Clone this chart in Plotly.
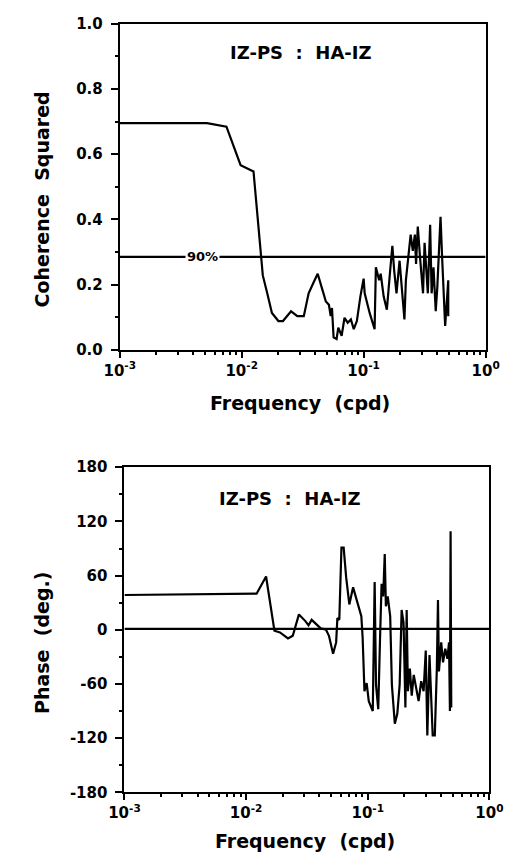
import plotly.graph_objects as go

# ---------------- data ----------------
coh_freq = [0.001, 0.0052, 0.0075, 0.0098, 0.0125, 0.0145, 0.0149, 0.0162, 0.0177, 0.020,
            0.0218, 0.0254, 0.0286, 0.0323, 0.0354, 0.0385, 0.042, 0.046, 0.049, 0.0519,
            0.0537, 0.055, 0.0567, 0.060, 0.062, 0.066, 0.0697, 0.074, 0.0786, 0.083,
            0.088, 0.094, 0.100, 0.102, 0.112, 0.123, 0.126, 0.134, 0.138, 0.146,
            0.155, 0.165, 0.172, 0.178, 0.186, 0.197, 0.204, 0.216, 0.222, 0.235,
            0.243, 0.253, 0.263, 0.269, 0.278, 0.290, 0.298, 0.307, 0.316, 0.326,
            0.336, 0.351, 0.361, 0.374, 0.390, 0.402, 0.414, 0.427, 0.440, 0.452,
            0.466, 0.480, 0.494, 0.494]
coh_values = [0.695, 0.695, 0.684, 0.566, 0.547, 0.289, 0.228, 0.173, 0.113, 0.088,
              0.088, 0.118, 0.103, 0.103, 0.173, 0.203, 0.233, 0.183, 0.148, 0.138,
              0.103, 0.128, 0.038, 0.033, 0.068, 0.043, 0.098, 0.083, 0.093, 0.063,
              0.088, 0.163, 0.218, 0.173, 0.113, 0.063, 0.253, 0.213, 0.233, 0.163,
              0.123, 0.243, 0.319, 0.243, 0.173, 0.273, 0.193, 0.093, 0.213, 0.293,
              0.353, 0.303, 0.353, 0.263, 0.378, 0.283, 0.213, 0.173, 0.328, 0.243,
              0.173, 0.383, 0.173, 0.253, 0.118, 0.193, 0.278, 0.408, 0.283, 0.193,
              0.073, 0.143, 0.213, 0.103]

phase_freq = [0.001, 0.0122, 0.0146, 0.0171, 0.019, 0.0221, 0.0242, 0.0272, 0.0307, 0.0326,
              0.0346, 0.0378, 0.0413, 0.0452, 0.048, 0.0519, 0.055, 0.0563, 0.0584, 0.0608,
              0.0634, 0.0665, 0.0706, 0.0758, 0.0805, 0.0855, 0.0886, 0.0908, 0.094, 0.098,
              0.102, 0.110, 0.114, 0.117, 0.122, 0.126, 0.130, 0.134, 0.138, 0.141,
              0.146, 0.153, 0.158, 0.167, 0.175, 0.183, 0.190, 0.197, 0.204, 0.209,
              0.214, 0.222, 0.230, 0.239, 0.249, 0.262, 0.275, 0.288, 0.300, 0.309,
              0.322, 0.332, 0.342, 0.356, 0.370, 0.378, 0.385, 0.402, 0.416, 0.434,
              0.452, 0.466, 0.474, 0.480, 0.486]
phase_values = [38.5, 40, 59, -1, -3, -9.6, -6.7, 17, 9.6, 5,
                11, 6, 1.3, 0.5, -6.7, -26.5, -14, 13, 11, 91,
                91, 58, 28, 47, 35, 24, 15, -8.5, -68, -59,
                -79, -90, 53, -61, -88, -14, 51, 37, 84, 26,
                37, 15, -61, -104, -93, -61, 22, 8, -86, 22,
                -68, -43, -73, -50, -64, -79, -57, -68, -23, -117,
                -28, -83, -117, -117, -43, 33, -46, -14, -36, -21,
                -32, -14, -90, 109, -86]

conf_level = 0.285
conf_label = "90%"
panel_title = "IZ-PS  :  HA-IZ"
x_range = [0.001, 1.0]
x_tickvals = [0.001, 0.01, 0.1, 1.0]
x_ticktext = ["10<sup>-3</sup>", "10<sup>-2</sup>", "10<sup>-1</sup>", "10<sup>0</sup>"]
x_minor = [m * d for d in (0.001, 0.01, 0.1) for m in range(2, 10)]
coh_ticks = [0.0, 0.2, 0.4, 0.6, 0.8, 1.0]
coh_ticktext = ["0.0", "0.2", "0.4", "0.6", "0.8", "1.0"]
phase_ticks = [-180, -120, -60, 0, 60, 120, 180]

W, H = 526, 863
FONT = "DejaVu Sans"

fig = go.Figure()
line = dict(color="black", width=2.2)

fig.add_trace(go.Scatter(x=coh_freq, y=coh_values, mode="lines", line=line,
                         xaxis="x", yaxis="y", showlegend=False))
fig.add_trace(go.Scatter(x=x_range, y=[conf_level, conf_level], mode="lines", line=line,
                         xaxis="x", yaxis="y", showlegend=False))
fig.add_trace(go.Scatter(x=phase_freq, y=phase_values, mode="lines", line=line,
                         xaxis="x2", yaxis="y2", showlegend=False))
fig.add_trace(go.Scatter(x=x_range, y=[1, 1], mode="lines", line=line,
                         xaxis="x2", yaxis="y2", showlegend=False))

def xax(domain, anchor):
    return dict(type="log", range=[-3, 0], domain=domain, anchor=anchor,
                tickmode="array", tickvals=x_tickvals, ticktext=x_ticktext,
                ticks="outside", ticklen=6, tickwidth=2, tickcolor="black",
                minor=dict(tickmode="array", tickvals=x_minor, ticks="outside",
                           ticklen=3, tickwidth=1.5, tickcolor="black"),
                showline=True, linewidth=2, linecolor="black", mirror=True,
                showgrid=False, zeroline=False,
                tickfont=dict(family=FONT, size=15, color="black", weight="bold"))

def yax(domain, anchor, rng, tickvals, ticktext, minor_dtick):
    return dict(range=rng, domain=domain, anchor=anchor,
                tickmode="array", tickvals=tickvals, ticktext=ticktext,
                ticks="outside", ticklen=7, tickwidth=2, tickcolor="black",
                ticklabelstandoff=5,
                minor=dict(dtick=minor_dtick, ticks="outside", ticklen=3,
                           tickwidth=1.5, tickcolor="black"),
                showline=True, linewidth=2, linecolor="black", mirror=True,
                showgrid=False, zeroline=False,
                tickfont=dict(family=FONT, size=15, color="black", weight="bold"))

fig.update_layout(
    width=W, height=H, margin=dict(l=0, r=0, t=0, b=0),
    paper_bgcolor="white", plot_bgcolor="white",
    xaxis=xax([110 / W, 498 / W], "y"),
    yaxis=yax([1 - 348 / H, 1 - 15 / H], "x", [0, 1], coh_ticks, coh_ticktext, 0.1),
    xaxis2=xax([115 / W, 502 / W], "y2"),
    yaxis2=yax([1 - 800 / H, 1 - 468 / H], "x2", [-180, 180], phase_ticks,
               [str(v) for v in phase_ticks], 30),
)

tfont = dict(family=FONT, size=18, color="black", weight="bold")
ann = [
    dict(x=302 / W, y=1 - 44 / H, text=panel_title, font=tfont),
    dict(x=291 / W, y=1 - 500 / H, text=panel_title, font=tfont),
    dict(x=27 / W, y=1 - 194 / H, text="Coherence  Squared",
         font=dict(tfont, size=19), textangle=-90),
    dict(x=27 / W, y=1 - 647 / H, text="Phase  (deg.)",
         font=dict(tfont, size=19), textangle=-90),
    dict(x=301 / W, y=1 - 402 / H, text="Frequency  (cpd)", font=dict(tfont, size=19)),
    dict(x=307 / W, y=1 - 850 / H, text="Frequency  (cpd)", font=dict(tfont, size=19)),
]
for a in ann:
    fig.add_annotation(xref="paper", yref="paper", xanchor="center", yanchor="middle",
                       showarrow=False, **a)

fig.add_annotation(x=-2.32, y=conf_level, xref="x", yref="y", text=conf_label,
                   showarrow=False, bgcolor="white", borderpad=1,
                   font=dict(family=FONT, size=13, color="black", weight="bold"))

fig.write_html("out.html")
